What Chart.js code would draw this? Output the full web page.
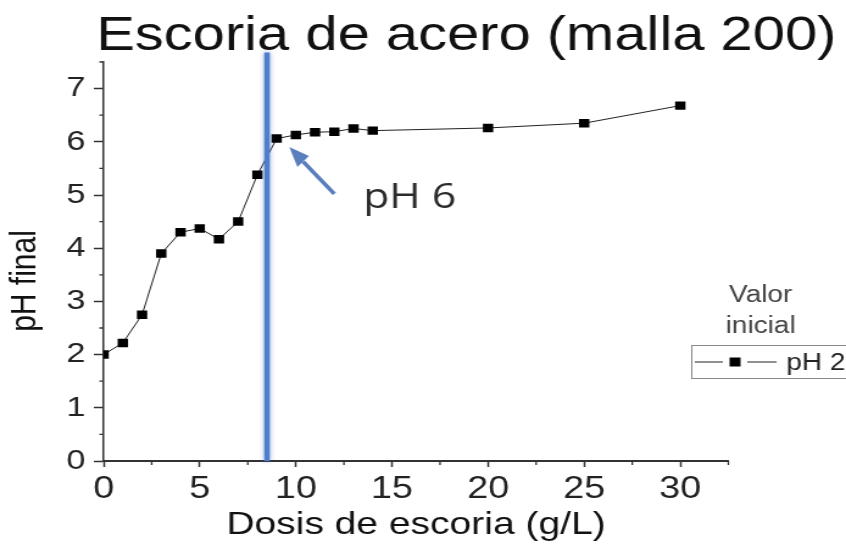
<!DOCTYPE html>
<html lang="es">
<head>
<meta charset="utf-8">
<title>Escoria de acero (malla 200)</title>
<script src="https://cdn.jsdelivr.net/npm/chart.js@4.4.1/dist/chart.umd.min.js"></script>
<style>
  html, body { margin: 0; padding: 0; background: #fff; overflow: hidden; }
  /* el gráfico se dibuja más estrecho y se estira en horizontal */
  #marco { width: 694px; height: 546px; transform: scaleX(1.219); transform-origin: 0 0; }
</style>
</head>
<body>
<div id="marco"><canvas id="grafico"></canvas></div>
<script>
// dosis de escoria (g/L) y pH final medido
const dosis = [0, 1, 2, 3, 4, 5, 6, 7, 8, 9, 10, 11, 12, 13, 14, 20, 25, 30];
const phFinal = [2.0, 2.22, 2.75, 3.9, 4.3, 4.37, 4.17, 4.5, 5.38, 6.06, 6.13, 6.18, 6.19, 6.25, 6.21, 6.26, 6.35, 6.68];

// dosis donde se alcanza pH 6 (línea vertical)
const dosisCorte = 8.5;
const alturaCorte = [0, 7.68];

// marcas menores de los ejes
const menoresX = [2.5, 7.5, 12.5, 17.5, 22.5, 27.5, 32.5];
const menoresY = [0.5, 1.5, 2.5, 3.5, 4.5, 5.5, 6.5, 7.5];

// flecha que señala pH 6: [dosis, pH] de la cola y de la punta
const flechaCola = [12.0, 5.02];
const flechaPunta = [9.66, 5.9];
const notaPH = [13.5, 4.75];

const ESTIRADO = 1.219;
const fuente = "'Liberation Sans', Arial, sans-serif";

Chart.defaults.font.family = fuente;

// halo suave alrededor de la línea vertical
const halo = {
  id: 'halo',
  beforeDatasetDraw(chart, args) {
    if (args.index !== 1) return;
    chart.ctx.save();
    chart.ctx.shadowColor = 'rgba(70, 110, 200, 0.6)';
    chart.ctx.shadowBlur = 4;
  },
  afterDatasetDraw(chart, args) {
    if (args.index !== 1) return;
    chart.ctx.restore();
  }
};

const decoracion = {
  id: 'decoracion',
  afterDraw(chart) {
    const ctx = chart.ctx;
    const xs = chart.scales.x;
    const ys = chart.scales.y;
    const area = chart.chartArea;

    ctx.save();

    // marcas menores
    ctx.strokeStyle = '#333';
    ctx.lineWidth = 1.3;
    ctx.beginPath();
    menoresX.forEach((v) => {
      const px = xs.getPixelForValue(v);
      ctx.moveTo(px, area.bottom);
      ctx.lineTo(px, area.bottom + 4);
    });
    menoresY.forEach((v) => {
      const py = ys.getPixelForValue(v);
      ctx.moveTo(area.left, py);
      ctx.lineTo(area.left - 3.5, py);
    });
    ctx.stroke();

    // título
    ctx.fillStyle = '#111';
    ctx.font = '47.5px ' + fuente;
    ctx.textAlign = 'center';
    ctx.textBaseline = 'alphabetic';
    ctx.fillText('Escoria de acero (malla 200)', 382.5, 50);

    // título del eje y
    ctx.save();
    ctx.translate(20.5, 281);
    ctx.rotate(-Math.PI / 2);
    ctx.font = '30px ' + fuente;
    ctx.textBaseline = 'middle';
    ctx.fillStyle = '#111';
    ctx.fillText('pH final', 0, 0);
    ctx.restore();

    // flecha
    const x0 = xs.getPixelForValue(flechaCola[0]);
    const y0 = ys.getPixelForValue(flechaCola[1]);
    const x1 = xs.getPixelForValue(flechaPunta[0]);
    const y1 = ys.getPixelForValue(flechaPunta[1]);
    const ang = Math.atan2(y1 - y0, (x1 - x0) * ESTIRADO);
    const largo = 20, ancho = 8;
    const bx = x1 - Math.cos(ang) * largo / ESTIRADO;
    const by = y1 - Math.sin(ang) * largo;
    ctx.strokeStyle = '#5a7fbe';
    ctx.fillStyle = '#5a7fbe';
    ctx.lineWidth = 3.5;
    ctx.beginPath();
    ctx.moveTo(x0, y0);
    ctx.lineTo(bx, by);
    ctx.stroke();
    ctx.beginPath();
    ctx.moveTo(x1, y1);
    ctx.lineTo(bx + Math.sin(ang) * ancho / ESTIRADO, by - Math.cos(ang) * ancho);
    ctx.lineTo(bx - Math.sin(ang) * ancho / ESTIRADO, by + Math.cos(ang) * ancho);
    ctx.closePath();
    ctx.fill();

    ctx.fillStyle = '#2b2b2b';
    ctx.font = "35px 'Open Sans', sans-serif";
    ctx.textAlign = 'left';
    ctx.fillText('pH 6', xs.getPixelForValue(notaPH[0]), ys.getPixelForValue(notaPH[1]));

    // leyenda
    ctx.fillStyle = '#444';
    ctx.font = '23px ' + fuente;
    ctx.textAlign = 'center';
    ctx.fillText('Valor', 624, 302);
    ctx.fillText('inicial', 624, 333);

    ctx.strokeStyle = '#888';
    ctx.lineWidth = 1;
    ctx.strokeRect(567.5, 345.5, 200, 33);

    ctx.strokeStyle = '#222';
    ctx.lineWidth = 1.2;
    ctx.beginPath();
    ctx.moveTo(570, 362);
    ctx.lineTo(593, 362);
    ctx.moveTo(613, 362);
    ctx.lineTo(637, 362);
    ctx.stroke();
    ctx.fillStyle = '#000';
    ctx.fillRect(598.5, 357.5, 9, 9);

    ctx.fillStyle = '#222';
    ctx.font = '23px ' + fuente;
    ctx.textAlign = 'left';
    ctx.fillText('pH 2', 645, 370);

    ctx.restore();
  }
};

new Chart(document.getElementById('grafico'), {
  type: 'line',
  data: {
    datasets: [
      {
        label: 'pH 2',
        data: dosis.map((d, i) => ({ x: d, y: phFinal[i] })),
        borderColor: '#222',
        borderWidth: 1,
        pointStyle: 'rect',
        pointRadius: 6,
        pointBorderWidth: 0,
        pointBackgroundColor: '#000',
        tension: 0,
        order: 1,
      },
      {
        label: 'pH 6',
        data: alturaCorte.map((y) => ({ x: dosisCorte, y })),
        borderColor: '#4f7fcc',
        borderWidth: 4.5,
        pointRadius: 0,
        clip: false,
        order: 0,
      },
    ],
  },
  options: {
    responsive: true,
    maintainAspectRatio: false,
    animation: false,
    layout: {
      padding: { top: 62, right: 96.5, bottom: 0, left: 0 },
    },
    plugins: {
      legend: { display: false },
      tooltip: { enabled: false },
    },
    scales: {
      x: {
        type: 'linear',
        min: 0,
        max: 32.5,
        ticks: {
          stepSize: 5,
          includeBounds: false,
          maxRotation: 0,
          padding: 4,
          color: '#222',
          font: { size: 31 },
        },
        grid: { drawOnChartArea: false, tickLength: 6, tickColor: '#333', tickWidth: 1.5 },
        border: { color: '#333', width: 2 },
        title: {
          display: true,
          text: 'Dosis de escoria (g/L)',
          color: '#111',
          font: { size: 32 },
          padding: { top: 0, bottom: 2 },
        },
        afterFit(scale) {
          scale.height = 85;
        },
      },
      y: {
        min: 0,
        max: 7.5,
        ticks: {
          stepSize: 1,
          includeBounds: false,
          padding: 7,
          color: '#222',
          font: { size: 28 },
        },
        grid: { drawOnChartArea: false, tickLength: 8, tickColor: '#333', tickWidth: 1.5 },
        border: { color: '#333', width: 1.5 },
        afterFit(scale) {
          scale.width = 85;
        },
      },
    },
  },
  plugins: [halo, decoracion],
});
</script>
</body>
</html>
